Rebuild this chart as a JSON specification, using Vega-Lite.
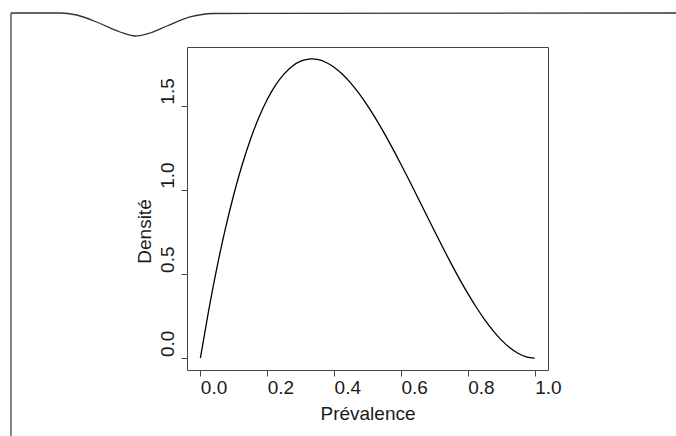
{
  "$schema": "https://vega.github.io/schema/vega-lite/v6.json",
  "width": 361,
  "height": 323,
  "autosize": {"type": "none"},
  "padding": {"left": 187, "top": 47, "right": 128, "bottom": 66},
  "background": "white",
  "config": {
    "view": {"stroke": "#444444", "strokeWidth": 1},
    "axis": {
      "grid": false,
      "domain": false,
      "tickColor": "#444444",
      "tickSize": 6,
      "labelFont": "Liberation Sans",
      "labelFontSize": 19,
      "labelColor": "#1a1a1a",
      "titleFont": "Liberation Sans",
      "titleFontSize": 19,
      "titleFontWeight": "normal",
      "titleColor": "#1a1a1a"
    }
  },
  "datasets": {
    "curve": [
      {"x": 0, "y": 0},
      {"x": 0.025, "y": 0.2852},
      {"x": 0.05, "y": 0.5415},
      {"x": 0.075, "y": 0.7701},
      {"x": 0.1, "y": 0.972},
      {"x": 0.125, "y": 1.1484},
      {"x": 0.15, "y": 1.3005},
      {"x": 0.175, "y": 1.4293},
      {"x": 0.2, "y": 1.536},
      {"x": 0.225, "y": 1.6217},
      {"x": 0.25, "y": 1.6875},
      {"x": 0.275, "y": 1.7346},
      {"x": 0.3, "y": 1.764},
      {"x": 0.325, "y": 1.7769},
      {"x": 0.3333, "y": 1.7778},
      {"x": 0.35, "y": 1.7745},
      {"x": 0.375, "y": 1.7578},
      {"x": 0.4, "y": 1.728},
      {"x": 0.425, "y": 1.6862},
      {"x": 0.45, "y": 1.6335},
      {"x": 0.475, "y": 1.5711},
      {"x": 0.5, "y": 1.5},
      {"x": 0.525, "y": 1.4214},
      {"x": 0.55, "y": 1.3365},
      {"x": 0.575, "y": 1.2463},
      {"x": 0.6, "y": 1.152},
      {"x": 0.625, "y": 1.0547},
      {"x": 0.65, "y": 0.9555},
      {"x": 0.675, "y": 0.8556},
      {"x": 0.7, "y": 0.756},
      {"x": 0.725, "y": 0.6579},
      {"x": 0.75, "y": 0.5625},
      {"x": 0.775, "y": 0.4708},
      {"x": 0.8, "y": 0.384},
      {"x": 0.825, "y": 0.3032},
      {"x": 0.85, "y": 0.2295},
      {"x": 0.875, "y": 0.1641},
      {"x": 0.9, "y": 0.108},
      {"x": 0.925, "y": 0.0624},
      {"x": 0.95, "y": 0.0285},
      {"x": 0.975, "y": 0.0073},
      {"x": 1, "y": 0}
    ],
    "frameTop": [
      {"x": -0.5665, "y": 2.0505},
      {"x": -0.42, "y": 2.0505},
      {"x": -0.37, "y": 2.0386},
      {"x": -0.3, "y": 1.988},
      {"x": -0.24, "y": 1.9375},
      {"x": -0.196, "y": 1.9138},
      {"x": -0.151, "y": 1.9316},
      {"x": -0.1, "y": 1.9732},
      {"x": -0.031, "y": 2.0267},
      {"x": 0.038, "y": 2.0475},
      {"x": 1.43, "y": 2.0505}
    ],
    "frameLeft": [
      {"x": -0.5665, "y": -0.47, "y2": 2.0505}
    ]
  },
  "layer": [
    {
      "data": {"name": "curve"},
      "mark": {"type": "line", "color": "black", "strokeWidth": 1.3, "interpolate": "monotone"},
      "encoding": {
        "x": {
          "field": "x", "type": "quantitative",
          "scale": {"domain": [-0.04, 1.04], "nice": false, "zero": false},
          "axis": {
            "values": [0, 0.2, 0.4, 0.6, 0.8, 1],
            "format": ".1f",
            "title": "Prévalence",
            "labelAlign": "left",
            "labelBaseline": "alphabetic",
            "labelPadding": 17.6,
            "labelFlush": false,
            "titleY": 49,
            "titleBaseline": "alphabetic"
          }
        },
        "y": {
          "field": "y", "type": "quantitative",
          "scale": {"domain": [-0.0711, 1.8484], "nice": false, "zero": false},
          "axis": {
            "values": [0, 0.5, 1, 1.5],
            "format": ".1f",
            "title": "Densité",
            "labelAngle": 270,
            "labelAlign": "left",
            "labelBaseline": "alphabetic",
            "labelPadding": 7.7,
            "labelOffset": -1.5,
            "labelFlush": false,
            "titleAngle": 270,
            "titleAlign": "center",
            "titleBaseline": "alphabetic",
            "titleX": -36.7,
            "titleY": 184
          }
        }
      }
    },
    {
      "data": {"name": "frameTop"},
      "mark": {"type": "line", "color": "#333333", "strokeWidth": 1.3, "interpolate": "monotone", "clip": false},
      "encoding": {
        "x": {"field": "x", "type": "quantitative"},
        "y": {"field": "y", "type": "quantitative"}
      }
    },
    {
      "data": {"name": "frameLeft"},
      "mark": {"type": "rule", "color": "#444444", "strokeWidth": 1.3, "clip": false},
      "encoding": {
        "x": {"field": "x", "type": "quantitative"},
        "y": {"field": "y", "type": "quantitative"},
        "y2": {"field": "y2"}
      }
    }
  ]
}
